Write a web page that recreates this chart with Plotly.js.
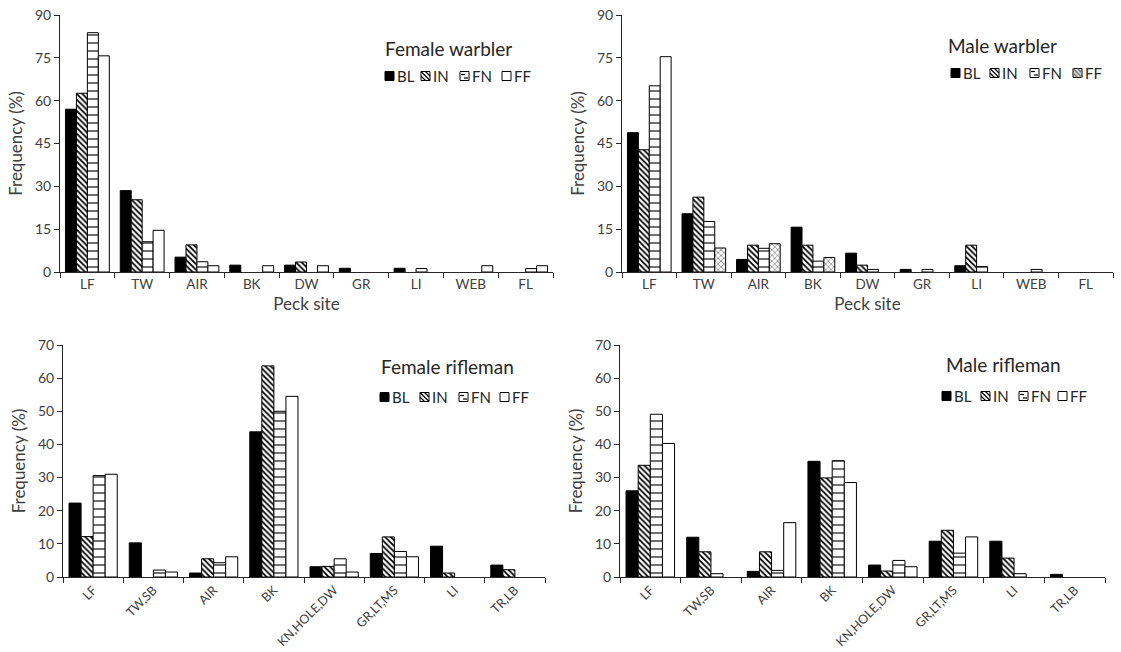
<!DOCTYPE html>
<html>
<head>
<meta charset="utf-8">
<script src="https://cdn.plot.ly/plotly-3.0.1.min.js"></script>
<style>html,body{margin:0;padding:0;background:#fff}#chart{width:1121px;height:652px}</style>
</head>
<body>
<div id="chart"></div>
<script>
// ---------- DATA ----------
const warblerSites = ['LF','TW','AIR','BK','DW','GR','LI','WEB','FL'];
const riflemanSites = ['LF','TW,SB','AIR','BK','KN,HOLE,DW','GR,LT,MS','LI','TR,LB'];
const seriesNames = ['BL','IN','FN','FF'];

const femaleWarblerBL = [57.0,28.5,5.2,2.4,2.4,1.3,1.3,0,0];
const femaleWarblerIN = [62.6,25.3,9.5,0,3.5,0,0,0,0];
const femaleWarblerFN = [83.8,10.6,3.6,0,0,0,1.2,0,1.2];
const femaleWarblerFF = [75.7,14.6,2.2,2.2,2.2,0,0,2.2,2.2];

const maleWarblerBL = [48.8,20.4,4.4,15.7,6.6,0.9,2.2,0,0];
const maleWarblerIN = [42.8,26.2,9.4,9.4,2.4,0,9.4,0,0];
const maleWarblerFN = [65.2,17.7,8.3,3.8,0.9,0.9,1.9,0.9,0];
const maleWarblerFF = [75.4,8.4,9.9,5.1,0,0,0,0,0];

const femaleRiflemanBL = [22.3,10.3,1.2,43.8,3.1,7.1,9.3,3.6];
const femaleRiflemanIN = [12.2,0,5.5,63.7,3.2,12.1,1.2,2.2];
const femaleRiflemanFN = [30.6,2.1,4.3,50.0,5.5,7.7,0,0];
const femaleRiflemanFF = [31.0,1.5,6.1,54.5,1.5,6.1,0,0];

const maleRiflemanBL = [26.0,12.0,1.7,34.9,3.6,10.8,10.8,0.8];
const maleRiflemanIN = [33.7,7.6,7.6,29.9,1.8,14.1,5.7,0];
const maleRiflemanFN = [49.1,1.0,2.0,35.1,5.0,7.2,1.0,0];
const maleRiflemanFF = [40.3,0,16.4,28.5,3.1,12.1,0,0];

const panelTitles = ['Female warbler','Male warbler','Female rifleman','Male rifleman'];

// ---------- STYLE / LAYOUT ----------
const W = 1121, H = 652;
const FONT = 'Lato, "Open Sans", sans-serif';
const TXT = '#404040';
const LINE = '#262626';
const P = x => x / W;
const Q = y => 1 - y / H;

function lineFor(vals){
  return {color:'#000', width: vals.map(v => v > 0 ? 1 : 0)};
}
function styleFor(s, vals, ffGray){
  const m = {line: lineFor(vals)};
  if (s === 'BL') { m.color = '#000'; }
  else if (s === 'IN') {
    m.color = '#fff';
    m.pattern = {shape:'\\', fgcolor:'#000', bgcolor:'#fff', size:4, solidity:0.45};
  } else if (s === 'FN') {
    m.color = '#fff';
    m.pattern = {shape:'-', fgcolor:'#000', bgcolor:'#fff', size:8, solidity:0.14};
  } else {
    m.color = '#fff';
    if (ffGray) {
      m.pattern = {shape: vals.map((v, i) => i === 0 ? '' : 'x'),
                   fgcolor:'#8a8a8a', bgcolor:'#fff', size:4, solidity:0.35};
    }
  }
  return m;
}

const panels = [
  {cats:warblerSites, data:[femaleWarblerBL,femaleWarblerIN,femaleWarblerFN,femaleWarblerFF],
   x:[60,553], y:[15,272], range:[0,90], dtick:15, rot:false, ffGray:false,
   titlePos:[383,48], legY:76, legSq:[385,421,460,502]},
  {cats:warblerSites, data:[maleWarblerBL,maleWarblerIN,maleWarblerFN,maleWarblerFF],
   x:[622,1113], y:[15,272], range:[0,90], dtick:15, rot:false, ffGray:true,
   titlePos:[946,45], legY:73, legSq:[951,990,1030,1073]},
  {cats:riflemanSites, data:[femaleRiflemanBL,femaleRiflemanIN,femaleRiflemanFN,femaleRiflemanFF],
   x:[63,545], y:[345,577], range:[0,70], dtick:10, rot:true, ffGray:false,
   titlePos:[379,366], legY:397, legSq:[380,420,459,500]},
  {cats:riflemanSites, data:[maleRiflemanBL,maleRiflemanIN,maleRiflemanFN,maleRiflemanFF],
   x:[620,1105], y:[345,577], range:[0,70], dtick:10, rot:true, ffGray:false,
   titlePos:[944,364], legY:396, legSq:[942,981,1019,1058]}
];

const traces = [];
const layout = {
  width:W, height:H,
  margin:{l:0,r:0,t:0,b:0},
  paper_bgcolor:'#fff', plot_bgcolor:'#fff',
  showlegend:false,
  barmode:'group', bargap:0.2, bargroupgap:0,
  font:{family:FONT, color:TXT, size:14},
  annotations:[], shapes:[]
};

panels.forEach((p, i) => {
  const k = i === 0 ? '' : String(i+1);
  const xa = 'x' + k, ya = 'y' + k;
  seriesNames.forEach((s, j) => {
    traces.push({type:'bar', name:s, x:p.cats, y:p.data[j], xaxis:xa, yaxis:ya,
                 marker:styleFor(s, p.data[j], p.ffGray && s === 'FF'), hoverinfo:'x+y+name'});
  });
  layout['xaxis' + k] = {
    domain:[P(p.x[0]), P(p.x[1])], anchor:ya, type:'category',
    showline:true, linecolor:LINE, linewidth:1,
    ticks:'outside', tickson:'boundaries', ticklen:5, tickcolor:LINE,
    tickfont:{size: p.rot ? 12.5 : 13.5, color:TXT, family:FONT},
    tickangle: p.rot ? -45 : 0,
    showgrid:false, zeroline:false, automargin:false, fixedrange:true,
    title: p.rot ? {text:''} : {text:'Peck site', font:{size:17, color:TXT, family:FONT}, standoff:6}
  };
  layout['yaxis' + k] = {
    domain:[Q(p.y[1]), Q(p.y[0])], anchor:xa,
    range:p.range, dtick:p.dtick, tick0:0,
    showline:true, linecolor:LINE, linewidth:1,
    ticks:'outside', ticklen:5, tickcolor:LINE,
    tickfont:{size:14, color:TXT, family:FONT},
    showgrid:false, zeroline:false, automargin:false, fixedrange:true,
    title:{text:'Frequency (%)', font:{size:17, color:TXT, family:FONT}, standoff:8}
  };

  // panel title
  layout.annotations.push({xref:'paper', yref:'paper', x:P(p.titlePos[0]), y:Q(p.titlePos[1]),
    xanchor:'left', yanchor:'middle', showarrow:false, text:panelTitles[i],
    font:{size:19, color:'#262626', family:FONT}});

  // manual legend
  const sq = 9, yc = p.legY;
  seriesNames.forEach((s, j) => {
    const x0 = p.legSq[j], x1 = x0 + sq, y0 = yc - sq/2, y1 = yc + sq/2;
    const fill = s === 'BL' ? '#000' : (s === 'FF' && p.ffGray ? '#d0d0d0' : '#fff');
    layout.shapes.push({type:'rect', xref:'paper', yref:'paper',
      x0:P(x0), x1:P(x1), y0:Q(y1), y1:Q(y0), fillcolor:fill,
      line:{color:'#000', width:1}});
    if (s === 'IN' || (s === 'FF' && p.ffGray)) {
      const col = s === 'IN' ? '#000' : '#777';
      const offs = [-4.5, 0, 4.5];
      offs.forEach(o => {
        const ax = x0 + Math.max(0, o), ay = y0 + Math.max(0, -o);
        const bx = x1 - Math.max(0, -o), by = y1 - Math.max(0, o);
        layout.shapes.push({type:'line', xref:'paper', yref:'paper',
          x0:P(ax), y0:Q(ay), x1:P(bx), y1:Q(by), line:{color:col, width:1.2}});
      });
    }
    if (s === 'FN') {
      [[x0+1, x0+5, yc-1.5], [x0+4, x0+8, yc+2]].forEach(d => {
        layout.shapes.push({type:'line', xref:'paper', yref:'paper',
          x0:P(d[0]), y0:Q(d[2]), x1:P(d[1]), y1:Q(d[2]), line:{color:'#000', width:1.2}});
      });
    }
    layout.annotations.push({xref:'paper', yref:'paper', x:P(x1 + 1), y:Q(yc),
      xanchor:'left', yanchor:'middle', showarrow:false, text:s,
      font:{size:15, color:'#262626', family:FONT}});
  });
});

Plotly.newPlot('chart', traces, layout, {displayModeBar:false, staticPlot:true});
</script>
</body>
</html>
